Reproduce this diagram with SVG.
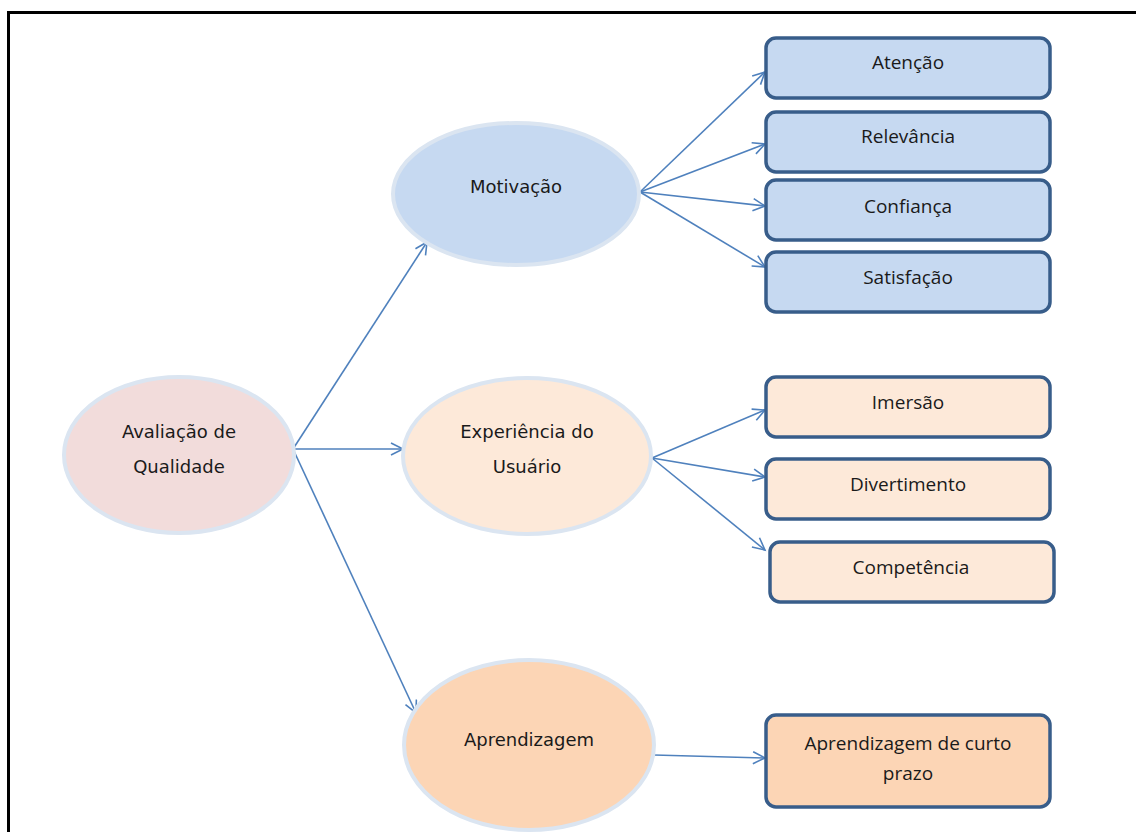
<svg xmlns="http://www.w3.org/2000/svg" width="1136" height="832" viewBox="0 0 1136 832">
<style>
.ell{stroke:#dbe5f1;stroke-width:4}
.box{stroke:#385d8a;stroke-width:3.5}
.et{font-family:"DejaVu Sans",sans-serif;font-size:18px;fill:#1a1a1a;text-anchor:middle}
.bt{font-family:"Open Sans","Noto Sans",sans-serif;font-size:19px;fill:#1a1a1a;text-anchor:middle}
.con line{stroke:#4f81bd;stroke-width:1.6;marker-end:url(#arr)}
</style>
<defs>
<marker id="arr" markerUnits="userSpaceOnUse" markerWidth="16" markerHeight="16" refX="13" refY="7" orient="auto">
<path d="M1,1 L13,7 L1,13" fill="none" stroke="#4f81bd" stroke-width="1.6"/>
</marker>
</defs>
<rect width="1136" height="832" fill="#fff"/>
<rect x="8.5" y="12.5" width="1140" height="840" fill="none" stroke="#000" stroke-width="3"/>
<g class="con">
<line x1="293" y1="449" x2="427" y2="242"/>
<line x1="293" y1="449" x2="403" y2="449"/>
<line x1="293" y1="449" x2="416" y2="713"/>
<line x1="640" y1="192" x2="765" y2="72"/>
<line x1="640" y1="192" x2="765" y2="144"/>
<line x1="640" y1="192" x2="765" y2="206"/>
<line x1="640" y1="192" x2="765" y2="267"/>
<line x1="652" y1="458" x2="765" y2="410"/>
<line x1="652" y1="458" x2="765" y2="477"/>
<line x1="652" y1="458" x2="765" y2="550"/>
<line x1="654" y1="755" x2="765" y2="758"/>
</g>
<g id="avaliacao">
<ellipse class="ell" cx="179" cy="455" rx="115" ry="78" fill="#f2dcdb"/>
<text class="et" x="179" y="438">Avaliação de</text>
<text class="et" x="179" y="473">Qualidade</text>
</g>
<g id="motivacao">
<ellipse class="ell" cx="516" cy="194" rx="123" ry="71" fill="#c6d9f1"/>
<text class="et" x="516" y="193">Motivação</text>
</g>
<g id="experiencia">
<ellipse class="ell" cx="527" cy="456" rx="124" ry="78" fill="#fde9d9"/>
<text class="et" x="527" y="438">Experiência do</text>
<text class="et" x="527" y="473">Usuário</text>
</g>
<g id="aprendizagem">
<ellipse class="ell" cx="529" cy="745" rx="125" ry="85" fill="#fcd5b5"/>
<text class="et" x="529" y="746">Aprendizagem</text>
</g>
<g id="atencao">
<rect class="box" x="766" y="38" width="284" height="60" rx="10" fill="#c6d9f1"/>
<text class="bt" x="908" y="69">Atenção</text>
</g>
<g id="relevancia">
<rect class="box" x="766" y="112" width="284" height="60" rx="10" fill="#c6d9f1"/>
<text class="bt" x="908" y="143">Relevância</text>
</g>
<g id="confianca">
<rect class="box" x="766" y="180" width="284" height="60" rx="10" fill="#c6d9f1"/>
<text class="bt" x="908" y="213">Confiança</text>
</g>
<g id="satisfacao">
<rect class="box" x="766" y="252" width="284" height="60" rx="10" fill="#c6d9f1"/>
<text class="bt" x="908" y="284">Satisfação</text>
</g>
<g id="imersao">
<rect class="box" x="766" y="377" width="284" height="60" rx="10" fill="#fde9d9"/>
<text class="bt" x="908" y="409">Imersão</text>
</g>
<g id="divertimento">
<rect class="box" x="766" y="459" width="284" height="60" rx="10" fill="#fde9d9"/>
<text class="bt" x="908" y="491">Divertimento</text>
</g>
<g id="competencia">
<rect class="box" x="770" y="542" width="284" height="60" rx="10" fill="#fde9d9"/>
<text class="bt" x="911" y="574">Competência</text>
</g>
<g id="curto-prazo">
<rect class="box" x="766" y="715" width="284" height="92" rx="10" fill="#fcd5b5"/>
<text class="bt" x="908" y="750">Aprendizagem de curto</text>
<text class="bt" x="908" y="780">prazo</text>
</g>
</svg>
